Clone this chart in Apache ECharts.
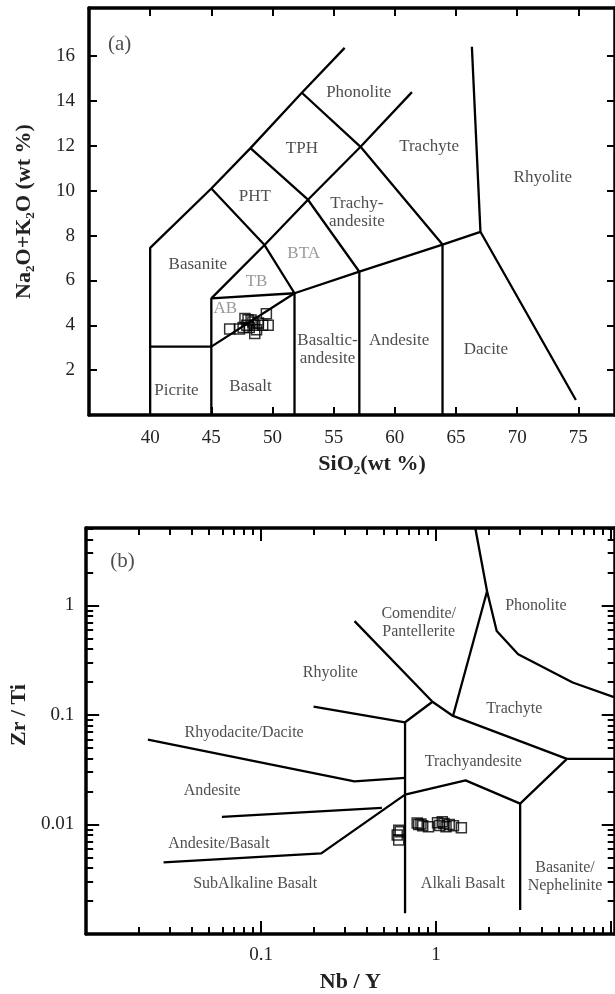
<!DOCTYPE html>
<html><head><meta charset="utf-8">
<script src="https://cdn.jsdelivr.net/npm/echarts@6/dist/echarts.min.js"></script>
<style>html,body{margin:0;padding:0;background:#fff}#c{width:615px;height:994px}</style>
</head><body><div id="c"></div>
<script>
// ===== (a) TAS diagram =====
const tasTicksX = [40, 45, 50, 55, 60, 65, 70, 75];
const tasTicksY = [2, 4, 6, 8, 10, 12, 14, 16];
const tasSiO2 = [46.5, 47.3, 47.75, 48.25, 48.55, 48.55, 49.5, 49.65, 48.85, 47.9, 48.1, 48.4, 48.0, 48.7, 49.2, 47.6];
const tasAlk  = [3.83, 3.83, 4.30, 4.24, 4.00, 3.64, 4.52, 4.00, 4.10, 4.00, 3.90, 4.15, 4.25, 3.80, 4.00, 3.90];
const tasBoundaries = [
  [[40,0],[40,7.45],[45,10.1],[48.2,11.9],[52.4,14.37],[55.9,16.37]],
  [[45,0],[45,5.2],[51.8,5.43]],
  [[45,5.2],[49.35,7.58],[52.9,9.6],[57.2,11.96],[61.4,14.4]],
  [[40,3.05],[45,3.05],[51.8,5.43]],
  [[45,10.1],[49.35,7.58],[51.8,5.43],[51.8,0]],
  [[48.2,11.9],[52.9,9.6],[57.1,6.39],[57.1,0]],
  [[52.4,14.37],[57.2,11.96],[63.9,7.6],[63.9,0]],
  [[51.8,5.43],[57.1,6.39],[63.9,7.6],[67,8.17],[74.8,0.67]],
  [[67,8.17],[66.3,16.42]]
];
const tasFields = [
  ['Phonolite', 57.05, 14.4], ['TPH', 52.4, 11.9], ['Trachyte', 62.8, 11.96],
  ['Rhyolite', 72.1, 10.6], ['PHT', 48.55, 9.73], ['Trachy-\nandesite', 56.9, 9.03],
  ['Basanite', 43.9, 6.69], ['Basaltic-\nandesite', 54.5, 2.9], ['Andesite', 60.35, 3.34],
  ['Dacite', 67.45, 2.9], ['Picrite', 42.15, 1.11], ['Basalt', 48.2, 1.26]
];
const tasFieldsGray = [['BTA', 52.55, 7.21], ['TB', 48.7, 5.94], ['AB', 46.15, 4.76]];
const tasPanel = [['(a)', 37.5, 16.54]];

// ===== (b) Zr/Ti vs Nb/Y diagram =====
const wfMajorX = [0.1, 1, 10];
const wfLabelX = [0.1, 1];
const wfMinorX = [0.02,0.03,0.04,0.05,0.06,0.07,0.08,0.09,0.2,0.3,0.4,0.5,0.6,0.7,0.8,0.9,2,3,4,5,6,7,8,9];
const wfMajorY = [0.01, 0.1, 1];
const wfLabelY = [0.01, 0.1, 1];
const wfMinorY = [0.002,0.003,0.004,0.005,0.006,0.007,0.008,0.009,0.02,0.03,0.04,0.05,0.06,0.07,0.08,0.09,0.2,0.3,0.4,0.5,0.6,0.7,0.8,0.9,2,3,4,5];
const wfNbY  = [0.600, 0.612, 0.624, 0.612, 0.796, 0.839, 0.905, 1.085, 1.11, 1.14, 1.19, 1.257, 1.395, 0.78, 0.82, 1.05, 1.02];
const wfZrTi = [0.0080, 0.00887, 0.00859, 0.00720, 0.0100, 0.00973, 0.00953, 0.0106, 0.0102, 0.00953, 0.0100, 0.00973, 0.00934, 0.0103, 0.0101, 0.0098, 0.0104];
const wfBoundaries = [
  [[1.676,5.1],[1.957,1.349],[2.222,0.584],[2.946,0.3585],[6.04,0.198],[10.5,0.145]],
  [[0.342,0.72],[0.954,0.132],[1.25,0.098],[5.6,0.0398],[10.5,0.0398]],
  [[1.957,1.349],[1.25,0.098]],
  [[0.1995,0.119],[0.665,0.0858],[0.954,0.132]],
  [[0.665,0.0858],[0.665,0.00155]],
  [[0.02254,0.0597],[0.3416,0.0248],[0.665,0.0266]],
  [[0.0277,0.00451],[0.2207,0.00545],[0.665,0.01874],[1.475,0.0253],[3.025,0.0155],[5.6,0.0398]],
  [[3.025,0.0155],[3.025,0.00166]],
  [[0.0597,0.01175],[0.49,0.01419]]
];
const wfFields = [
  ['Phonolite', 3.72, 1.0], ['Comendite/\nPantellerite', 0.796, 0.697], ['Rhyolite', 0.2486, 0.2445],
  ['Trachyte', 2.80, 0.115], ['Rhyodacite/Dacite', 0.08, 0.0686], ['Trachyandesite', 1.633, 0.0376],
  ['Andesite', 0.0525, 0.0205], ['Andesite/Basalt', 0.0574, 0.00672], ['SubAlkaline Basalt', 0.0925, 0.00285],
  ['Alkali Basalt', 1.423, 0.00285], ['Basanite/\nNephelinite', 5.46, 0.00334]
];
const wfPanel = [['(b)', 0.01615, 2.53]];

// ===== build =====
const FONT = 'Liberation Serif';
const frame = { show: true, onZero: false, lineStyle: { color: '#000', width: 3.5 } };
const noLine = { show: false, onZero: false };
const fmt = v => String(+(+v).toPrecision(3));

function valAxis(grid, pos, min, max, ticks, labels, extra) {
  return Object.assign({
    type: 'value', gridIndex: grid, position: pos, min: min, max: max,
    axisLine: frame, splitLine: { show: false },
    axisTick: { show: true, inside: true, length: 8, lineStyle: { color: '#000', width: 2 }, customValues: ticks },
    axisLabel: labels ? { show: true, customValues: labels, fontFamily: FONT, fontSize: 19, color: '#222', margin: 14, formatter: fmt } : { show: false }
  }, extra || {});
}
function logAxis(grid, pos, min, max, ticks, len, line, labels, extra) {
  return Object.assign({
    type: 'log', logBase: 10, gridIndex: grid, position: pos, min: min, max: max,
    axisLine: line ? frame : noLine, splitLine: { show: false }, minorTick: { show: false },
    axisTick: { show: true, inside: true, length: len, lineStyle: { color: '#000', width: 2 }, customValues: ticks },
    axisLabel: labels ? { show: true, customValues: labels, fontFamily: FONT, fontSize: 19, color: '#222', margin: 12, formatter: fmt } : { show: false }
  }, extra || {});
}

const titleStyle = { fontFamily: FONT, fontSize: 22, fontWeight: 'bold', color: '#222' };

const xAxis = [
  valAxis(0, 'bottom', 35, 78, tasTicksX, tasTicksX, { name: 'SiO₂(wt %)', nameLocation: 'middle', nameGap: 38, nameTextStyle: Object.assign({ padding: [0, 0, 0, 40] }, titleStyle) }),
  valAxis(0, 'top', 35, 78, tasTicksX, null),
  logAxis(1, 'bottom', 0.01, 10.5, wfMajorX, 13, true, wfLabelX, { name: 'Nb / Y', nameLocation: 'middle', nameGap: 37, nameTextStyle: titleStyle }),
  logAxis(1, 'bottom', 0.01, 10.5, wfMinorX, 7, false, null),
  logAxis(1, 'top', 0.01, 10.5, wfMajorX, 13, true, null),
  logAxis(1, 'top', 0.01, 10.5, wfMinorX, 7, false, null)
];
const yAxis = [
  valAxis(0, 'left', 0, 18.15, tasTicksY, tasTicksY, { name: 'Na₂O+K₂O (wt %)', nameLocation: 'middle', nameGap: 54, nameRotate: 90, nameTextStyle: titleStyle }),
  valAxis(0, 'right', 0, 18.15, tasTicksY, null),
  logAxis(1, 'left', 0.001, 5.1, wfMajorY, 13, true, wfLabelY, { name: 'Zr / Ti', nameLocation: 'middle', nameGap: 46, nameRotate: 90, nameTextStyle: Object.assign({ padding: [0, 0, 0, 32] }, titleStyle) }),
  logAxis(1, 'left', 0.001, 5.1, wfMinorY, 7, false, null),
  logAxis(1, 'right', 0.001, 5.1, wfMajorY, 13, true, null),
  logAxis(1, 'right', 0.001, 5.1, wfMinorY, 7, false, null)
];

const series = [];
tasBoundaries.forEach(b => series.push({
  type: 'line', xAxisIndex: 0, yAxisIndex: 0, data: b, symbol: 'none', silent: true,
  lineStyle: { color: '#000', width: 2.3 }, z: 2
}));
wfBoundaries.forEach(b => series.push({
  type: 'line', xAxisIndex: 2, yAxisIndex: 2, data: b, symbol: 'none', silent: true, clip: true,
  lineStyle: { color: '#000', width: 2.3 }, z: 2
}));
function textSeries(xi, yi, items, size, color, lh) {
  return {
    type: 'scatter', xAxisIndex: xi, yAxisIndex: yi, symbolSize: 0, silent: true, z: 5,
    data: items.map(t => ({ value: [t[1], t[2]], name: t[0] })),
    label: { show: true, position: 'inside', formatter: p => p.name, fontFamily: FONT, fontSize: size, color: color, lineHeight: lh }
  };
}
series.push(textSeries(0, 0, tasFields, 17, '#222', 18));
series.push(textSeries(0, 0, tasFieldsGray, 17, '#808080', 18));
series.push(textSeries(0, 0, tasPanel, 21, '#222', 22));
series.push(textSeries(2, 2, wfFields, 16, '#222', 18));
series.push(textSeries(2, 2, wfPanel, 21, '#222', 22));

series.push({
  type: 'scatter', xAxisIndex: 0, yAxisIndex: 0, symbol: 'rect', symbolSize: 10, z: 4,
  data: tasSiO2.map((v, i) => [v, tasAlk[i]]),
  itemStyle: { color: 'rgba(255,255,255,0)', borderColor: '#000', borderWidth: 1.5 }
});
series.push({
  type: 'scatter', xAxisIndex: 2, yAxisIndex: 2, symbol: 'rect', symbolSize: 10, z: 4,
  data: wfNbY.map((v, i) => [v, wfZrTi[i]]),
  itemStyle: { color: 'rgba(255,255,255,0)', borderColor: '#000', borderWidth: 1.5 }
});

const chart = echarts.init(document.getElementById('c'), null, { renderer: 'canvas' });
chart.setOption({
  animation: false,
  backgroundColor: '#fff',
  grid: [
    { left: 89, top: 8, width: 526.3, height: 407 },
    { left: 83, top: 528, width: 531.7, height: 409 }
  ],
  xAxis: xAxis,
  yAxis: yAxis,
  series: series
});
</script></body></html>
